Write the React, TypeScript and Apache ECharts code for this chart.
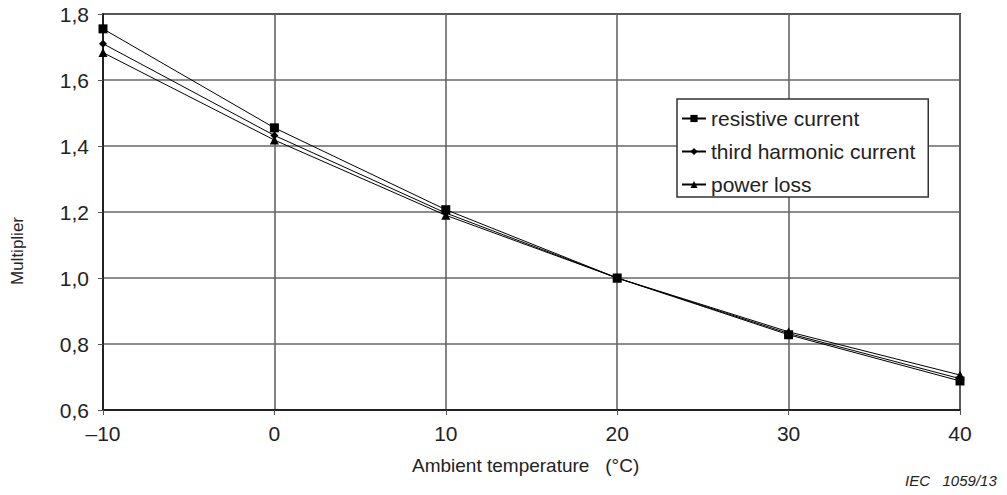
import React, { useEffect, useRef } from "react";
import * as echarts from "echarts";

const temperatures = [-10, 0, 10, 20, 30, 40];
const resistiveCurrent = [1.755, 1.455, 1.207, 1.0, 0.828, 0.688];
const thirdHarmonicCurrent = [1.71, 1.432, 1.197, 1.0, 0.832, 0.695];
const powerLoss = [1.683, 1.418, 1.19, 1.0, 0.837, 0.706];
const seriesNames = ["resistive current", "third harmonic current", "power loss"];
const xTicks = { min: -10, max: 40, interval: 10 };
const yTicks = { min: 0.6, max: 1.8, interval: 0.2 };

const FONT = "'Liberation Sans', Arial, sans-serif";

export default function App() {
  const ref = useRef<HTMLDivElement>(null);
  useEffect(() => {
    if (!ref.current) return;
    const chart = echarts.init(ref.current, null, { renderer: "svg" });
    const mk = (name: string, vals: number[], symbol: string, size: number) => ({
      name,
      type: "line",
      data: temperatures.map((t, i) => [t, vals[i]]),
      symbol,
      symbolSize: size,
      showAllSymbol: true,
      clip: false,
      lineStyle: { color: "#000", width: 1 },
      itemStyle: { color: "#000", borderColor: "#000", borderWidth: 0 },
    });
    chart.setOption({
      animation: false,
      backgroundColor: "#fff",
      textStyle: { fontFamily: FONT },
      grid: {
        left: 103,
        right: 47,
        top: 14,
        bottom: 85,
        containLabel: false,
        show: true,
        borderColor: "#333",
        borderWidth: 2,
      },
      xAxis: {
        type: "value",
        min: xTicks.min,
        max: xTicks.max,
        interval: xTicks.interval,
        axisLine: { show: true, onZero: false, lineStyle: { color: "#222", width: 2 } },
        axisTick: { show: true, length: 5, lineStyle: { color: "#555" } },
        axisLabel: {
          color: "#222",
          fontSize: 21,
          margin: 13,
          fontFamily: FONT,
          formatter: (v: number) => String(v).replace("-", "\u2013"),
        },
        splitLine: { show: true, lineStyle: { color: "#666", width: 1.6 } },
      },
      yAxis: {
        type: "value",
        min: yTicks.min,
        max: yTicks.max,
        interval: yTicks.interval,
        axisLine: { show: true, onZero: false, lineStyle: { color: "#222", width: 2 } },
        axisTick: { show: true, length: 5, lineStyle: { color: "#555" } },
        axisLabel: {
          color: "#222",
          fontSize: 21,
          margin: 14,
          fontFamily: FONT,
          formatter: (v: number) => v.toFixed(1).replace(".", ","),
        },
        splitLine: { show: true, lineStyle: { color: "#666", width: 1.6 } },
      },
      legend: {
        show: true,
        orient: "vertical",
        left: 677,
        top: 99,
        padding: [9, 13, 2, 4],
        itemGap: 12,
        itemWidth: 24,
        itemHeight: 9,
        itemTextGap: 6,
        backgroundColor: "#fff",
        borderColor: "#333",
        borderWidth: 1.5,
        borderRadius: 0,
        textStyle: { color: "#222", fontSize: 21, fontFamily: FONT },
        data: seriesNames,
      },
      series: [
        mk(seriesNames[0], resistiveCurrent, "rect", 9),
        mk(seriesNames[1], thirdHarmonicCurrent, "diamond", 8),
        mk(seriesNames[2], powerLoss, "triangle", 9),
      ],
      graphic: [
        {
          type: "text",
          left: 412,
          top: 456,
          style: { text: "Ambient temperature   (°C)", fontSize: 19, fill: "#222", fontFamily: FONT },
        },
        {
          type: "text",
          x: 9,
          y: 285,
          rotation: Math.PI / 2,
          style: { text: "Multiplier", fontSize: 17, fill: "#222", fontFamily: FONT },
        },
        {
          type: "text",
          left: 905,
          top: 473,
          style: { text: "IEC   1059/13", fontSize: 15, fontStyle: "italic", fill: "#222", fontFamily: FONT },
        },
      ],
    });
    return () => chart.dispose();
  }, []);
  return <div ref={ref} style={{ width: 1007, height: 495, position: "fixed", left: 0, top: 0 }} />;
}
